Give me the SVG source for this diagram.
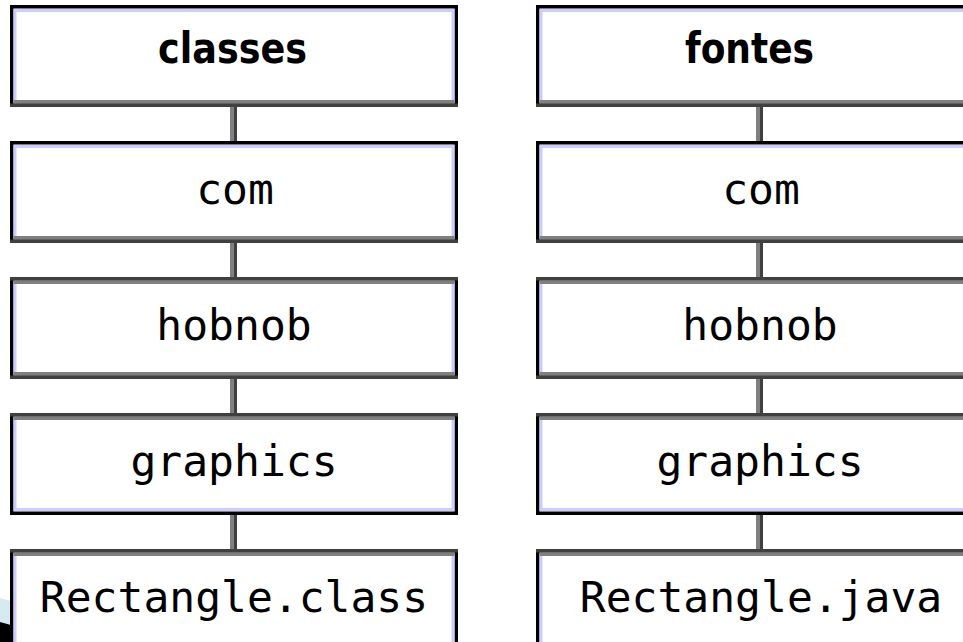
<svg xmlns="http://www.w3.org/2000/svg" width="963" height="642" viewBox="0 0 963 642">
  <style>
    .outer { fill: #ffffff; stroke: #000000; stroke-width: 3.5; }
    .inner { fill: none; stroke: #ccccff; stroke-width: 3; }
    .edge-dark { stroke: #404040; stroke-width: 3.5; }
    .edge-gray { stroke: #808080; stroke-width: 3.5; }
    .hdr { font-family: "DejaVu Sans", "Liberation Sans", sans-serif; font-weight: bold; font-size: 43px; fill: #000; }
    .mono { font-family: "DejaVu Sans Mono", "Liberation Mono", monospace; font-size: 43px; fill: #000; text-anchor: middle; }
    .link-l { stroke: #808080; stroke-width: 3.5; }
    .link-r { stroke: #404040; stroke-width: 3.5; }
  </style>
  <defs>
    <!-- box frame: black outline with lavender inner rule -->
    <g id="frame">
      <rect class="outer" x="1.75" y="1.75" width="444.5" height="98.5"/>
      <rect class="inner" x="5" y="5.5" width="438" height="91"/>
    </g>
    <!-- shaded top edge -->
    <g id="top-shade">
      <line class="edge-dark" x1="0" y1="1.75" x2="448" y2="1.75"/>
      <line class="edge-gray" x1="3.5" y1="5.25" x2="444.5" y2="5.25"/>
    </g>
    <!-- shaded bottom edge -->
    <g id="bottom-shade">
      <line class="edge-gray" x1="3.5" y1="96.75" x2="444.5" y2="96.75"/>
      <line class="edge-dark" x1="0" y1="100.25" x2="448" y2="100.25"/>
    </g>
  </defs>

  <rect width="963" height="642" fill="#ffffff"/>

  <!-- corner decoration -->
  <polygon points="0,598 11,601 11,625 0,622" fill="#d6eaf1"/>
  <polygon points="0,622 11,625 11,642 0,642" fill="#000000"/>

  <!-- connectors -->
  <g id="connectors">
    <g transform="translate(230,0)">
      <line class="link-l" x1="1.75" y1="105" x2="1.75" y2="143"/>
      <line class="link-r" x1="5.25" y1="105" x2="5.25" y2="143"/>
      <line class="link-l" x1="1.75" y1="241" x2="1.75" y2="279"/>
      <line class="link-r" x1="5.25" y1="241" x2="5.25" y2="279"/>
      <line class="link-l" x1="1.75" y1="377" x2="1.75" y2="415"/>
      <line class="link-r" x1="5.25" y1="377" x2="5.25" y2="415"/>
      <line class="link-l" x1="1.75" y1="513" x2="1.75" y2="551"/>
      <line class="link-r" x1="5.25" y1="513" x2="5.25" y2="551"/>
    </g>
    <g transform="translate(756,0)">
      <line class="link-l" x1="1.75" y1="105" x2="1.75" y2="143"/>
      <line class="link-r" x1="5.25" y1="105" x2="5.25" y2="143"/>
      <line class="link-l" x1="1.75" y1="241" x2="1.75" y2="279"/>
      <line class="link-r" x1="5.25" y1="241" x2="5.25" y2="279"/>
      <line class="link-l" x1="1.75" y1="377" x2="1.75" y2="415"/>
      <line class="link-r" x1="5.25" y1="377" x2="5.25" y2="415"/>
      <line class="link-l" x1="1.75" y1="513" x2="1.75" y2="551"/>
      <line class="link-r" x1="5.25" y1="513" x2="5.25" y2="551"/>
    </g>
  </g>

  <!-- left tree -->
  <g id="classes">
    <g transform="translate(10,5)"><use href="#frame"/><use href="#bottom-shade"/></g>
    <text class="hdr" x="158" y="63" textLength="149" lengthAdjust="spacingAndGlyphs">classes</text>
  </g>
  <g id="com-left">
    <g transform="translate(10,141)"><use href="#frame"/><use href="#bottom-shade"/></g>
    <text class="mono" x="235" y="204">com</text>
  </g>
  <g id="hobnob-left">
    <g transform="translate(10,277)"><use href="#frame"/><use href="#top-shade"/><use href="#bottom-shade"/></g>
    <text class="mono" x="234" y="340">hobnob</text>
  </g>
  <g id="graphics-left">
    <g transform="translate(10,413)"><use href="#frame"/><use href="#top-shade"/></g>
    <text class="mono" x="234" y="476">graphics</text>
  </g>
  <g id="rectangle-class">
    <g transform="translate(10,549)"><use href="#frame"/><use href="#top-shade"/></g>
    <text class="mono" x="234" y="612">Rectangle.class</text>
  </g>

  <!-- right tree -->
  <g id="fontes">
    <g transform="translate(536,5)"><use href="#frame"/><use href="#bottom-shade"/></g>
    <text class="hdr" x="685" y="63" textLength="129" lengthAdjust="spacingAndGlyphs">fontes</text>
  </g>
  <g id="com-right">
    <g transform="translate(536,141)"><use href="#frame"/><use href="#bottom-shade"/></g>
    <text class="mono" x="761" y="204">com</text>
  </g>
  <g id="hobnob-right">
    <g transform="translate(536,277)"><use href="#frame"/><use href="#top-shade"/><use href="#bottom-shade"/></g>
    <text class="mono" x="760" y="340">hobnob</text>
  </g>
  <g id="graphics-right">
    <g transform="translate(536,413)"><use href="#frame"/><use href="#top-shade"/></g>
    <text class="mono" x="760" y="476">graphics</text>
  </g>
  <g id="rectangle-java">
    <g transform="translate(536,549)"><use href="#frame"/><use href="#top-shade"/></g>
    <text class="mono" x="761" y="612">Rectangle.java</text>
  </g>
</svg>
